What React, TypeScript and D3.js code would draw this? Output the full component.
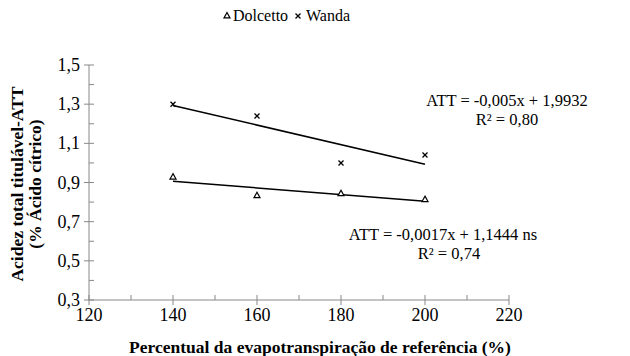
import React from 'react';
import * as d3 from 'd3';

// data
const etcLevels = [140, 160, 180, 200];
const dolcetto = [0.93, 0.835, 0.845, 0.815];
const wanda = [1.3, 1.24, 1.0, 1.04];

// trendline coefficients printed on the chart
const dolcettoFit = { slope: -0.0017, intercept: 1.1444 };
const wandaFit = { slope: -0.005, intercept: 1.9932 };

const xTicks = [120, 140, 160, 180, 200, 220];
const xMinor = [130, 150, 170, 190, 210];
const yTicks = [0.3, 0.5, 0.7, 0.9, 1.1, 1.3, 1.5];
const yMinor = [0.4, 0.6, 0.8, 1.0, 1.2, 1.4];

const W = 630;
const H = 356;
const margin = { top: 65, right: 121, bottom: 56, left: 89 };
const font = '"Liberation Serif", "Times New Roman", serif';
const axisColor = '#888888';

const fmt = (v: number) => v.toFixed(1).replace('.', ',');

const App = () => {
  const x = d3.scaleLinear().domain([120, 220]).range([margin.left, W - margin.right]);
  const y = d3.scaleLinear().domain([0.3, 1.5]).range([H - margin.bottom, margin.top]);

  const fitLine = (fit: { slope: number; intercept: number }) => {
    const ext = d3.extent(etcLevels) as [number, number];
    return d3.line<number>()
      .x(d => x(d))
      .y(d => y(fit.slope * d + fit.intercept))(ext) || '';
  };

  const tri = (cx: number, cy: number, s = 3) =>
    `M${cx},${cy - s}L${cx + s},${cy + s * 0.8}L${cx - s},${cy + s * 0.8}Z`;
  const cross = (cx: number, cy: number, s = 2.5) =>
    `M${cx - s},${cy - s}L${cx + s},${cy + s}M${cx - s},${cy + s}L${cx + s},${cy - s}`;

  const x0 = x(120);
  const y0 = y(0.3);

  return (
    <div style={{ position: 'absolute', left: 0, top: 0 }}>
      <svg width={W} height={H} style={{ display: 'block', background: '#fff', fontFamily: font }}>
        {/* Legend */}
        <g fontSize={16} fill="#000">
          <path d={tri(227, 15.5, 3)} fill="none" stroke="#000" strokeWidth={1.2} />
          <text x={233} y={21}>Dolcetto</text>
          <path d={cross(298, 16, 2.5)} stroke="#000" strokeWidth={1.3} />
          <text x={306} y={21}>Wanda</text>
        </g>

        {/* Y axis */}
        <line x1={x0} x2={x0} y1={y(1.5)} y2={y0} stroke={axisColor} />
        {yTicks.map(t => (
          <g key={t}>
            <line x1={x0 - 5} x2={x0 + 5} y1={y(t)} y2={y(t)} stroke={axisColor} />
            <text x={x0 - 9} y={y(t) + 6} textAnchor="end" fontSize={18}>{fmt(t)}</text>
          </g>
        ))}
        {yMinor.map(t => (
          <line key={t} x1={x0} x2={x0 + 5} y1={y(t)} y2={y(t)} stroke={axisColor} />
        ))}

        {/* X axis */}
        <line x1={x0} x2={x(220)} y1={y0} y2={y0} stroke={axisColor} />
        {xTicks.map(t => (
          <g key={t}>
            <line x1={x(t)} x2={x(t)} y1={y0 - 5} y2={y0 + 5} stroke={axisColor} />
            <text x={x(t)} y={y0 + 21} textAnchor="middle" fontSize={18}>{t}</text>
          </g>
        ))}
        {xMinor.map(t => (
          <line key={t} x1={x(t)} x2={x(t)} y1={y0 - 5} y2={y0} stroke={axisColor} />
        ))}

        {/* Trendlines */}
        <path d={fitLine(wandaFit)} fill="none" stroke="#000" strokeWidth={1.5} />
        <path d={fitLine(dolcettoFit)} fill="none" stroke="#000" strokeWidth={1.5} />

        {/* Points */}
        {etcLevels.map((e, i) => (
          <path key={'d' + e} d={tri(x(e), y(dolcetto[i]), 3)} fill="#fff" stroke="#000" strokeWidth={1.2} />
        ))}
        {etcLevels.map((e, i) => (
          <path key={'w' + e} d={cross(x(e), y(wanda[i]), 2.5)} stroke="#000" strokeWidth={1.3} />
        ))}

        {/* Equations */}
        <g fontSize={16.5} textAnchor="middle">
          <text x={507} y={106}>ATT = -0,005x + 1,9932</text>
          <text x={507} y={125}>R² = 0,80</text>
          <text x={443} y={240}>ATT = -0,0017x + 1,1444 ns</text>
          <text x={449} y={259}>R² = 0,74</text>
        </g>

        {/* Axis titles */}
        <text x={320} y={353} textAnchor="middle" fontSize={17.5} fontWeight="bold">
          Percentual da evapotranspiração de referência (%)
        </text>
        <g transform="translate(0,184) rotate(-90)" fontSize={17.5} fontWeight="bold" textAnchor="middle">
          <text x={0} y={23}>Acidez total titulável-ATT</text>
          <text x={0} y={41}>(% Ácido cítrico)</text>
        </g>
      </svg>
    </div>
  );
};

export default App;
